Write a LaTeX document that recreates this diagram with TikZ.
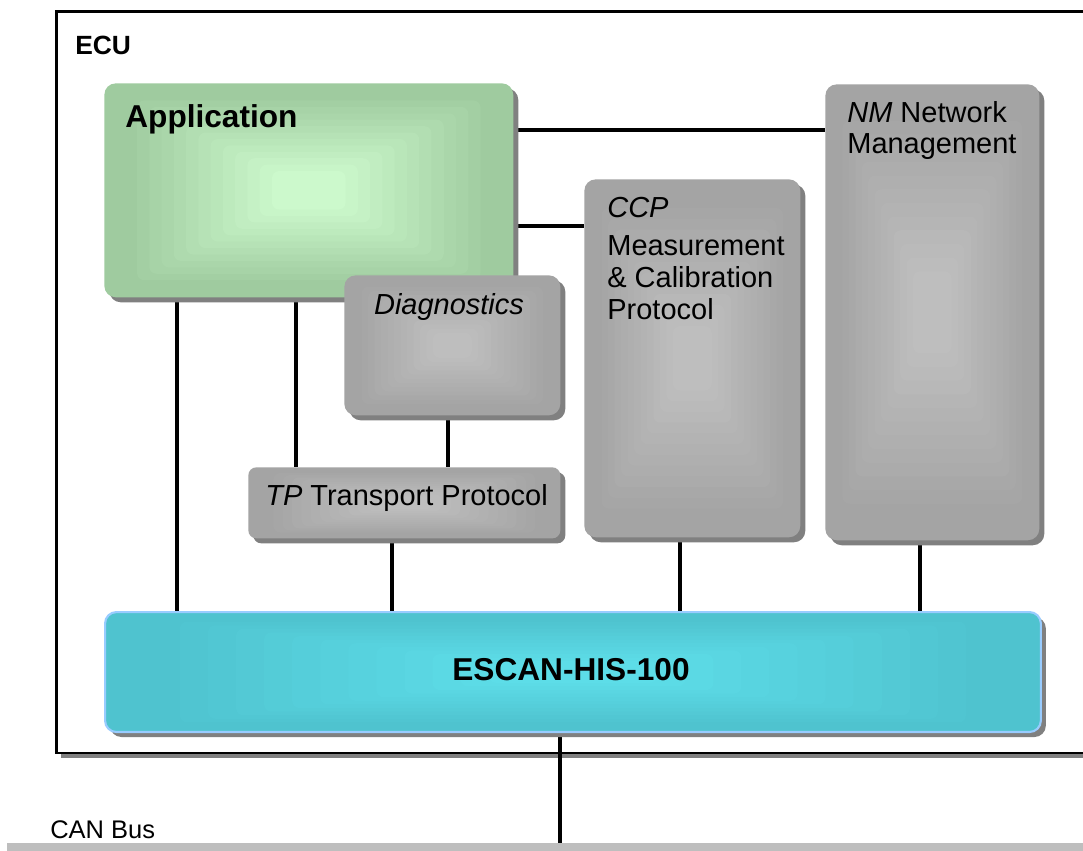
\documentclass[tikz,border=0pt]{standalone}
\usepackage{fontspec}
\setmainfont{Liberation Sans}
\usetikzlibrary{calc,shadows}
\definecolor{grayout}{HTML}{A4A4A4}
\definecolor{grayin}{HTML}{BEBEBE}
\definecolor{greenout}{HTML}{9FCB9F}
\definecolor{greenin}{HTML}{CCF9CC}
\definecolor{cyanout}{HTML}{4FC3CF}
\definecolor{cyanin}{HTML}{5DDDE8}
\definecolor{cyanline}{HTML}{99CCFF}
\definecolor{shadowgray}{HTML}{808080}
\definecolor{busgray}{HTML}{BEBEBE}
\pgfdeclarelayer{ecu}
\pgfdeclarelayer{wires}
\pgfsetlayers{ecu,wires,main}
\tikzset{
  grad/.style 2 args={path picture={
    \foreach \k in {1,...,12}{
      \pgfmathsetmacro\gradt{0.1+\k*0.06}
      \pgfmathsetmacro\gradp{\k*100/12}
      \fill[#2!\gradp!#1, rounded corners=4pt]
        ($(path picture bounding box.north west)!\gradt!(path picture bounding box.center)$) rectangle
        ($(path picture bounding box.south east)!\gradt!(path picture bounding box.center)$);
    }}},
  box/.style={rectangle, rounded corners=6.5pt, anchor=north west, inner sep=0,
    drop shadow={shadow xshift=0.1cm, shadow yshift=-0.1cm, fill=shadowgray, opacity=1}},
  graybox/.style={box, fill=grayout, grad={grayout}{grayin}},
  greenbox/.style={box, fill=greenout, grad={greenout}{greenin}},
  cyanbox/.style={box, fill=cyanout, draw=cyanline, line width=1.2pt, grad={cyanout}{cyanin}},
  ecubox/.style={rectangle, draw=black, line width=1.5pt, fill=white, anchor=north west, inner sep=0,
    drop shadow={shadow xshift=0.09cm, shadow yshift=-0.09cm, fill=shadowgray, opacity=1}},
  conn/.style={draw=black, line width=2.1pt},
  lbl/.style={anchor=base west, inner sep=0, font=\fontsize{16.5}{19}\selectfont},
  bigbold/.style={inner sep=0, font=\fontsize{18}{21}\selectfont\bfseries},
}
\begin{document}
\begin{tikzpicture}[x=0.02cm,y=-0.02cm]
\useasboundingbox (0,0) rectangle (1083,851);
\begin{pgfonlayer}{ecu}
\node[ecubox, minimum width=21cm, minimum height=14.84cm] (ecu) at (55,10) {};
\end{pgfonlayer}
\node[anchor=base west, inner sep=0, font=\fontsize{15}{18}\selectfont\bfseries] (ecut) at (75,55) {ECU};

\node[greenbox, minimum width=8.18cm, minimum height=4.28cm] (app) at (104,83) {};
\node[graybox, minimum width=4.32cm, minimum height=2.8cm] (diag) at (344,275) {};
\node[graybox, minimum width=6.24cm, minimum height=1.42cm, rounded corners=4.5pt] (tp) at (248,467) {};
\node[graybox, minimum width=4.32cm, minimum height=7.16cm] (ccp) at (584,179) {};
\node[graybox, minimum width=4.28cm, minimum height=9.12cm] (nm) at (825,84) {};
\node[cyanbox, minimum width=18.72cm, minimum height=2.4cm] (escan) at (104,611) {};
\node[fill=busgray, anchor=north west, inner sep=0, minimum width=21.6cm, minimum height=0.16cm] (bus) at (7,843) {};

\node[bigbold, anchor=base west] (appt) at (125,128) {Application};
\node[lbl, anchor=base, font=\fontsize{16.5}{19}\selectfont\itshape] (diagt) at (449,315) {Diagnostics};
\node[lbl] (tpt) at (265,505) {\textit{TP} Transport Protocol};
\node[lbl] (ccp1) at (607,218) {\textit{CCP}};
\node[lbl] (ccp2) at (607,256) {Measurement};
\node[lbl] (ccp3) at (607,288) {\& Calibration};
\node[lbl] (ccp4) at (607,320) {Protocol};
\node[lbl] (nm1) at (847,123) {\textit{NM} Network};
\node[lbl] (nm2) at (847,154) {Management};
\node[bigbold, anchor=base] (escant) at (571,680) {ESCAN-HIS-100};
\node[anchor=base west, inner sep=0, font=\fontsize{14.5}{17}\selectfont] (bust) at (50,838) {CAN Bus};

\begin{pgfonlayer}{wires}
\draw[conn] (app.east |- 0,130) -- (nm.west |- 0,130);
\draw[conn] (app.east |- 0,226) -- (ccp.west |- 0,226);
\draw[conn] (app.south -| 177,0) -- (escan.north -| 177,0);
\draw[conn] (app.south -| 296,0) -- (tp.north -| 296,0);
\draw[conn] (diag.south -| 448,0) -- (tp.north -| 448,0);
\draw[conn] (tp.south -| 392,0) -- (escan.north -| 392,0);
\draw[conn] (ccp.south -| 680,0) -- (escan.north -| 680,0);
\draw[conn] (nm.south -| 920,0) -- (escan.north -| 920,0);
\draw[conn] (escan.south -| 560,0) -- (bus.north -| 560,0);
\end{pgfonlayer}
\end{tikzpicture}
\end{document}
